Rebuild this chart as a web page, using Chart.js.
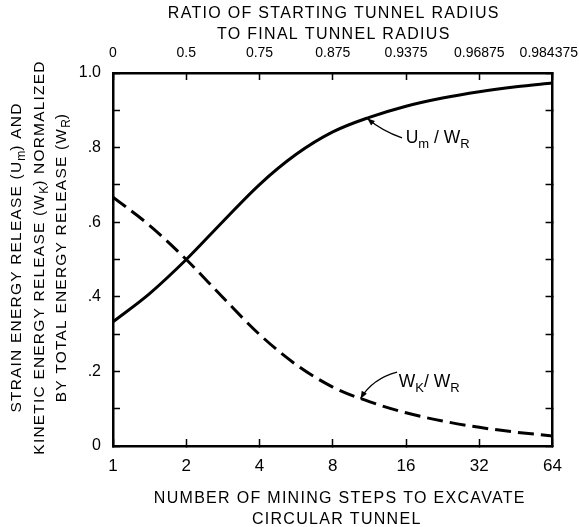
<!DOCTYPE html>
<html><head><meta charset="utf-8">
<script src="https://cdn.jsdelivr.net/npm/chart.js@4/dist/chart.umd.min.js"></script>
<style>html,body{margin:0;padding:0;background:#fff}#wrap{width:579px;height:527px;position:relative}</style>
</head><body><div id="wrap"><canvas id="c"></canvas></div>
<script>
// ---- data ----
const miningSteps = [1, 1.41, 2, 2.83, 4, 5.66, 8, 11.3, 16, 22.6, 32, 45.3, 64];
const strainRatio = [0.333, 0.408, 0.5, 0.602, 0.701, 0.782, 0.842, 0.881, 0.911, 0.933, 0.950, 0.963, 0.973];
const kineticRatio = [0.667, 0.592, 0.5, 0.398, 0.299, 0.218, 0.158, 0.119, 0.089, 0.067, 0.050, 0.037, 0.027];
const bottomTicks = [1, 2, 4, 8, 16, 32, 64];
const bottomTickLabels = ['1', '2', '4', '8', '16', '32', '64'];
const topTickLabels = ['0', '0.5', '0.75', '0.875', '0.9375', '0.96875', '0.984375'];
const yTicks = [0, 0.1, 0.2, 0.3, 0.4, 0.5, 0.6, 0.7, 0.8, 0.9, 1.0];
const yTickLabels = ['0', '', '.2', '', '.4', '', '.6', '', '.8', '', '1.0'];

const FONT = '"Liberation Sans", Arial, sans-serif';

function drawRich(ctx, segs, cx, baseY, size, spacing) {
  const main = size + 'px ' + FONT;
  const sub = Math.round(size * 0.76) + 'px ' + FONT;
  let w = 0; const ws = [];
  segs.forEach(s => { ctx.font = s.sub ? sub : main; ctx.letterSpacing = (s.sub ? 0 : spacing) + 'px'; const m = ctx.measureText(s.t).width; ws.push(m); w += m; });
  let x = cx - w / 2;
  ctx.textAlign = 'left'; ctx.textBaseline = 'alphabetic';
  segs.forEach((s, i) => { ctx.font = s.sub ? sub : main; ctx.letterSpacing = (s.sub ? 0 : spacing) + 'px'; ctx.fillText(s.t, x, baseY + (s.sub ? size * 0.28 : 0)); x += ws[i]; });
  ctx.letterSpacing = '0px';
}

function arrow(ctx, x0, y0, cxp, cyp, x1, y1) {
  ctx.beginPath(); ctx.moveTo(x0, y0); ctx.quadraticCurveTo(cxp, cyp, x1, y1); ctx.stroke();
  const a = Math.atan2(y1 - cyp, x1 - cxp);
  const L = 8, W = 0.38;
  ctx.beginPath();
  ctx.moveTo(x1, y1);
  ctx.lineTo(x1 - L * Math.cos(a - W), y1 - L * Math.sin(a - W));
  ctx.lineTo(x1 - L * Math.cos(a + W), y1 - L * Math.sin(a + W));
  ctx.closePath(); ctx.fill();
}

const textPlugin = {
  id: 'textPlugin',
  afterDraw(chart) {
    const ctx = chart.ctx, xs = chart.scales.x, ys = chart.scales.y, ca = chart.chartArea;
    ctx.save();
    ctx.fillStyle = '#000'; ctx.strokeStyle = '#000';
    // top tick labels (ratio of radii)
    ctx.font = '14px ' + FONT; ctx.textBaseline = 'middle';
    bottomTicks.forEach((v, i) => {
      let px = xs.getPixelForValue(v);
      ctx.textAlign = 'center';
      if (i === bottomTicks.length - 1) { ctx.textAlign = 'right'; px = chart.width - 1; }
      ctx.fillText(topTickLabels[i], px, ca.top - 20);
    });
    const midX = (ca.left + ca.right) / 2;
    // top title
    drawRich(ctx, [{t: 'RATIO OF STARTING TUNNEL RADIUS'}], midX + 1, 18, 16, 1.3);
    drawRich(ctx, [{t: 'TO FINAL TUNNEL RADIUS'}], midX + 1, 39, 16, 1.3);
    // bottom title
    drawRich(ctx, [{t: 'NUMBER OF MINING STEPS TO EXCAVATE'}], midX + 7, 503, 16, 1.3);
    drawRich(ctx, [{t: 'CIRCULAR TUNNEL'}], midX + 4, 524, 16, 1.3);
    // left title (rotated)
    const cy = (ca.top + ca.bottom) / 2 - 2;
    const lines = [
      [{t: 'STRAIN ENERGY RELEASE (U'}, {t: 'm', sub: true}, {t: ') AND'}],
      [{t: 'KINETIC ENERGY RELEASE (W'}, {t: 'K', sub: true}, {t: ') NORMALIZED'}],
      [{t: 'BY TOTAL ENERGY RELEASE (W'}, {t: 'R', sub: true}, {t: ')'}]
    ];
    const baseXs = [21, 44, 66];
    lines.forEach((segs, i) => {
      ctx.save(); ctx.translate(baseXs[i], cy); ctx.rotate(-Math.PI / 2);
      drawRich(ctx, segs, 0, 0, 15.5, 1.2);
      ctx.restore();
    });
    // curve annotations
    ctx.lineWidth = 1.3;
    const tipU = [xs.getPixelForValue(11.1), ys.getPixelForValue(0.878)];
    const startU = [xs.getPixelForValue(15.4), ys.getPixelForValue(0.826)];
    arrow(ctx, startU[0], startU[1], tipU[0] + 14, tipU[1] + 12, tipU[0], tipU[1]);
    drawRich(ctx, [{t: 'U'}, {t: 'm', sub: true}, {t: ' / W'}, {t: 'R', sub: true}], xs.getPixelForValue(16.4) + 29, ys.getPixelForValue(0.813), 17.5, 0);
    const tipW = [xs.getPixelForValue(10.4), ys.getPixelForValue(0.127)];
    const startW = [xs.getPixelForValue(14.7), ys.getPixelForValue(0.198)];
    arrow(ctx, startW[0], startW[1], tipW[0] + 12, tipW[1] - 20, tipW[0], tipW[1]);
    drawRich(ctx, [{t: 'W'}, {t: 'K', sub: true}, {t: '/ W'}, {t: 'R', sub: true}], xs.getPixelForValue(15) + 30, ys.getPixelForValue(0.158), 17.5, 0);
    ctx.restore();
  }
};

const tickGrid = { display: true, drawOnChartArea: false, drawTicks: true, tickLength: -7, color: '#000', tickWidth: 1.5 };
const border = { display: true, color: '#000', width: 2.5 };

new Chart(document.getElementById('c'), {
  type: 'line',
  data: {
    datasets: [
      { label: 'Um/WR', data: miningSteps.map((x, i) => ({x, y: strainRatio[i]})), borderColor: '#000', borderWidth: 3, pointRadius: 0, cubicInterpolationMode: 'monotone', fill: false },
      { label: 'WK/WR', data: miningSteps.map((x, i) => ({x, y: kineticRatio[i]})), borderColor: '#000', borderWidth: 3, borderDash: [16, 7], pointRadius: 0, cubicInterpolationMode: 'monotone', fill: false }
    ]
  },
  options: {
    responsive: true, maintainAspectRatio: false, animation: false,
    layout: { padding: 0 },
    plugins: { legend: { display: false }, tooltip: { enabled: false } },
    scales: {
      x: {
        type: 'logarithmic', position: 'bottom', min: 1, max: 64,
        afterBuildTicks: s => { s.ticks = bottomTicks.map(v => ({value: v})); },
        afterFit: s => { s.height = 81; },
        ticks: { autoSkip: false, maxRotation: 0, color: '#000', font: {family: FONT, size: 17}, padding: 17, callback: (v, i) => bottomTickLabels[i] },
        grid: tickGrid, border: border
      },
      x2: {
        type: 'logarithmic', position: 'top', min: 1, max: 64,
        afterBuildTicks: s => { s.ticks = bottomTicks.map(v => ({value: v})); },
        afterFit: s => { s.height = 73; },
        ticks: { display: false },
        grid: tickGrid, border: border
      },
      y: {
        type: 'linear', position: 'left', min: 0, max: 1,
        afterBuildTicks: s => { s.ticks = yTicks.map(v => ({value: v})); },
        afterFit: s => { s.width = 113; },
        ticks: { autoSkip: false, color: '#000', font: {family: FONT, size: 16}, padding: 19, callback: (v, i) => yTickLabels[i] },
        grid: tickGrid, border: border
      },
      y2: {
        type: 'linear', position: 'right', min: 0, max: 1,
        afterBuildTicks: s => { s.ticks = yTicks.map(v => ({value: v})); },
        afterFit: s => { s.width = 22; },
        ticks: { display: false },
        grid: tickGrid, border: border
      }
    }
  },
  plugins: [textPlugin]
});
</script>
</body></html>
